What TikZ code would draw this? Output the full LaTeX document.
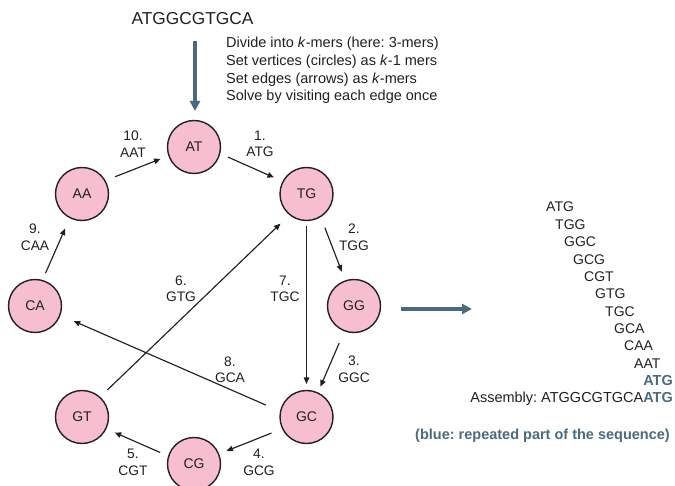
\documentclass[tikz,border=0pt]{standalone}
\usepackage{fontspec}
\setmainfont{Liberation Sans}
\usetikzlibrary{arrows.meta}
\frenchspacing
\definecolor{ink}{HTML}{231F20}
\definecolor{rosefill}{HTML}{F7BED0}
\definecolor{slate}{HTML}{4A6B7E}
\tikzset{
  vertex/.style={circle, draw=ink, line width=1.4pt, fill=rosefill, minimum size=53pt,
    inner sep=0pt, outer sep=0pt, text=ink, font=\fontsize{14}{16}\selectfont},
  edge/.style={draw=ink, line width=1.15pt, -{Triangle[length=6.5pt,width=5.5pt]}},
  elabel/.style={align=center, text=ink, inner sep=0pt, font=\fontsize{13.8}{16.5}\selectfont},
  bigarrow/.style={draw=slate, line width=3.6pt, -{Triangle[length=10pt,width=10pt]}},
  kmer/.style={anchor=west, inner sep=0pt, text=ink, font=\fontsize{14}{16}\selectfont},
}
\begin{document}
\begin{tikzpicture}[x=1pt, y=-1pt]
\useasboundingbox (0,0) rectangle (675,486);

% input sequence and the steps of the method
\node[text=ink, inner sep=0pt, font=\fontsize{17.3}{20}\selectfont] (seq) at (192.5,19) {ATGGCGTGCA};
\node[anchor=west, align=left, text=ink, inner sep=0pt, font=\fontsize{14.5}{17.6}\selectfont] (steps) at (226,70.5)
  {Divide into \textit{k}-mers (here: 3-mers)\\
   Set vertices (circles) as \textit{k}-1 mers\\
   Set edges (arrows) as \textit{k}-mers\\
   Solve by visiting each edge once};

% de Bruijn graph vertices
\node[vertex] (AT) at (194,147) {AT};
\node[vertex] (TG) at (306.5,194) {TG};
\node[vertex] (AA) at (82,194)  {AA};
\node[vertex] (CA) at (35,306)  {CA};
\node[vertex] (GG) at (354,306) {GG};
\node[vertex] (GT) at (82,417)  {GT};
\node[vertex] (GC) at (306.5,417) {GC};
\node[vertex] (CG) at (194,464) {CG};

% edges, one per 3-mer
\draw[edge, shorten <=9pt,  shorten >=10pt] (AT.-14.6) -- (TG.152);
\draw[edge, shorten <=11pt, shorten >=9pt]  (AA.30.5)  -- (AT.199);
\draw[edge, shorten <=8pt,  shorten >=12pt] (CA.74)    -- (AA.243.5);
\draw[edge, shorten <=12pt, shorten >=10pt] (TG.-58.5) -- (GG.109);
\draw[edge, shorten <=6pt,  shorten >=6.5pt](TG.-90)   -- (GC.90);
\draw[edge, shorten <=13.5pt, shorten >=7pt](GG.-111)  -- (GC.65);
\draw[edge, shorten <=12pt, shorten >=8.5pt](GC.206.8) -- (CG.22.3);
\draw[edge, shorten <=9.3pt, shorten >=9.7pt](CG.163.8)-- (GT.-26.8);
\draw[edge, shorten <=10.8pt, shorten >=13pt](GT.48)   -- (TG.231.3);
\draw[edge, shorten <=16pt, shorten >=15pt] (GC.168.8) -- (CA.-20.6);

% edge labels
\node[elabel] (l1)  at (260,144)   {1.\\ATG};
\node[elabel] (l2)  at (354,237.5) {2.\\TGG};
\node[elabel] (l3)  at (354,369)   {3.\\GGC};
\node[elabel] (l4)  at (259,462.5) {4.\\GCG};
\node[elabel] (l5)  at (133,462.5) {5.\\CGT};
\node[elabel] (l6)  at (181,289)   {6.\\GTG};
\node[elabel] (l7)  at (285,289)   {7.\\TGC};
\node[elabel] (l8)  at (230,369.5) {8.\\GCA};
\node[elabel] (l9)  at (35,237.5)  {9.\\CAA};
\node[elabel] (l10) at (133,144)   {10.\\AAT};

% process arrows
\coordinate (downA) at (195,41);
\coordinate (downB) at (195,111);
\draw[bigarrow] (downA) -- (downB);
\coordinate (rightA) at (401,309);
\coordinate (rightB) at (472,309);
\draw[bigarrow] (rightA) -- (rightB);

% overlapping k-mers
\node[kmer] (k1)  at (546,207)   {ATG};
\node[kmer] (k2)  at (555,224.5) {TGG};
\node[kmer] (k3)  at (564,242)   {GGC};
\node[kmer] (k4)  at (573,259.5) {GCG};
\node[kmer] (k5)  at (584,277)   {CGT};
\node[kmer] (k6)  at (595,294)   {GTG};
\node[kmer] (k7)  at (605,311.5) {TGC};
\node[kmer] (k8)  at (614,329)   {GCA};
\node[kmer] (k9)  at (624,346)   {CAA};
\node[kmer] (k10) at (634,363.5) {AAT};
\node[anchor=east, inner sep=0pt, text=slate, font=\fontsize{14.5}{16}\selectfont\bfseries] (k11) at (673,381) {ATG};
\node[anchor=east, inner sep=0pt, text=ink, font=\fontsize{14.5}{16}\selectfont] (asm) at (673,399)
  {Assembly: ATGGCGTGCA\textcolor{slate}{\bfseries ATG}};
\node[anchor=west, inner sep=0pt, text=slate, font=\fontsize{14.5}{16}\selectfont\bfseries] (note) at (415,436)
  {(blue: repeated part of the sequence)};
\end{tikzpicture}
\end{document}
